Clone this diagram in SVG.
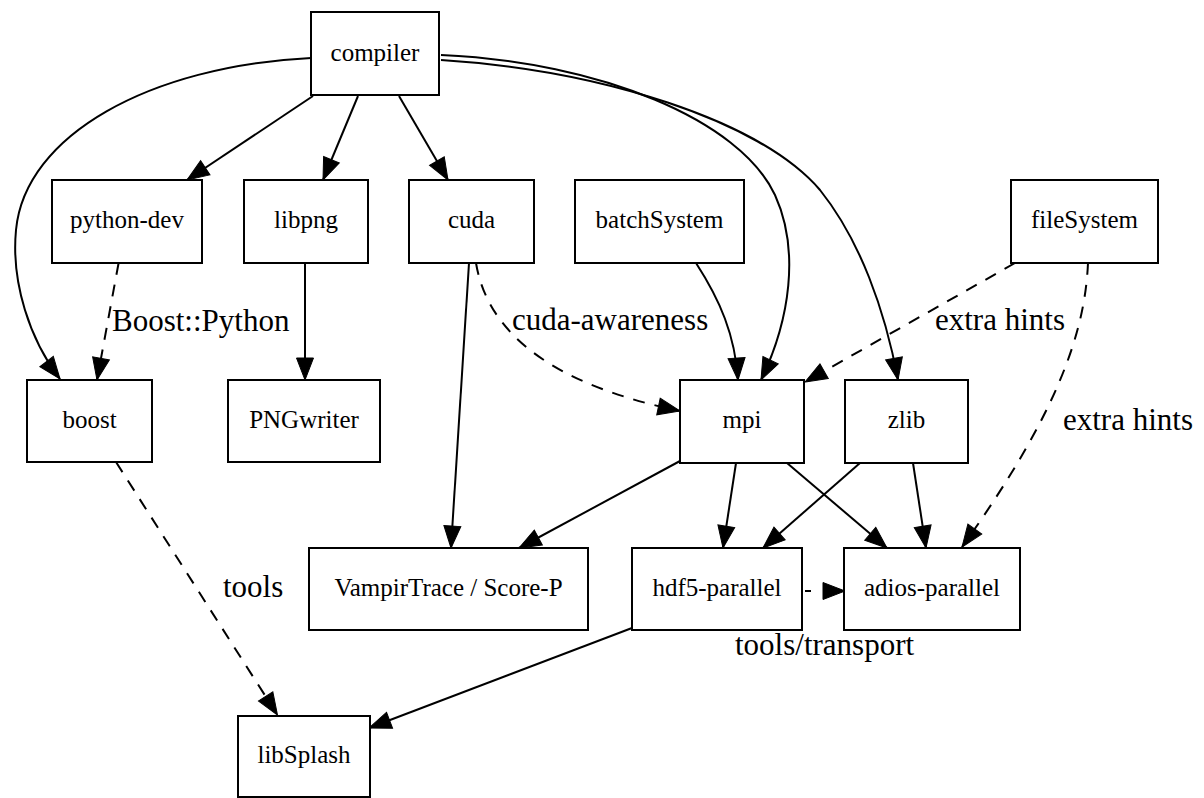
<svg xmlns="http://www.w3.org/2000/svg" width="1204" height="798" viewBox="0 0 1204 798">
<defs>
<marker id="arr" markerUnits="userSpaceOnUse" markerWidth="24" markerHeight="20" refX="22" refY="9" orient="auto" overflow="visible">
<path d="M0,0.5 L22,9 L0,17.5 z" fill="#000" stroke="#000" stroke-width="1"/>
</marker>
<style>
.node rect{fill:#fff;stroke:#000;stroke-width:2}
.node text{font-family:"Liberation Serif","Times New Roman",serif;font-size:25px;text-anchor:middle;fill:#000}
.edge path{fill:none;stroke:#000;stroke-width:2;marker-end:url(#arr)}
.edge path.d{stroke-dasharray:12,10}
.lbl{font-family:"Liberation Serif","Times New Roman",serif;font-size:31px;fill:#000}
</style>
</defs>
<rect width="1204" height="798" fill="#fff"/>
<g id="edges" class="edge">
<path d="M311,58 C150,66 25,135 16,230 C11,283 30,340 60,379"/>
<path d="M313,96 L187,180"/>
<path d="M358,96 L323,180"/>
<path d="M399,96 L448,180"/>
<path d="M441,55 C600,62 740,120 775,195 C800,250 790,320 761,380"/>
<path d="M441,60 C600,70 760,120 820,190 C860,240 885,310 898,380"/>
<path d="M696,263 C720,300 735,335 738,380"/>
<path class="d" d="M1015,263 L805,382"/>
<path class="d" d="M1088,263 C1085,330 1060,410 962,547"/>
<path class="d" d="M476,263 C488,335 555,385 680,411"/>
<path d="M469,263 L451,548"/>
<path class="d" d="M118.6,263 L97,380"/>
<path d="M305,263 L305,380"/>
<path class="d" d="M116,462 L277.5,715"/>
<path d="M680,461 L519,548"/>
<path d="M736,463 L723,548"/>
<path d="M787,463 L887,548"/>
<path d="M860,463 L763,548"/>
<path d="M913,463 L926,548"/>
<path d="M802,591 L845,591" style="stroke-dasharray:0 3 6 60"/>
<path d="M632,628 L369,728"/>
</g>
<g id="edge-labels">
<text class="lbl" x="112" y="331">Boost::Python</text>
<text class="lbl" x="512" y="330">cuda-awareness</text>
<text class="lbl" x="935" y="330">extra hints</text>
<text class="lbl" x="1063" y="430">extra hints</text>
<text class="lbl" x="223" y="597">tools</text>
<text class="lbl" x="735" y="655">tools/transport</text>
</g>
<g id="compiler" class="node"><rect x="311" y="12" width="128" height="83"/><text x="375" y="60.5">compiler</text></g>
<g id="python-dev" class="node"><rect x="52" y="180" width="150" height="83"/><text x="127" y="228">python-dev</text></g>
<g id="libpng" class="node"><rect x="244" y="180" width="124" height="83"/><text x="306" y="228">libpng</text></g>
<g id="cuda" class="node"><rect x="409" y="180" width="125" height="83"/><text x="471.5" y="228">cuda</text></g>
<g id="batchSystem" class="node"><rect x="575" y="180" width="169" height="83"/><text x="659.5" y="228">batchSystem</text></g>
<g id="fileSystem" class="node"><rect x="1011" y="180" width="147" height="83"/><text x="1084.5" y="228">fileSystem</text></g>
<g id="boost" class="node"><rect x="27" y="380" width="125" height="82"/><text x="89.5" y="427.5">boost</text></g>
<g id="PNGwriter" class="node"><rect x="228" y="380" width="152" height="82"/><text x="304" y="427.5">PNGwriter</text></g>
<g id="mpi" class="node"><rect x="680" y="380" width="124" height="83"/><text x="742" y="428">mpi</text></g>
<g id="zlib" class="node"><rect x="845" y="380" width="123" height="83"/><text x="906.5" y="428">zlib</text></g>
<g id="VampirTrace" class="node"><rect x="309" y="548" width="279" height="82"/><text x="448.5" y="596">VampirTrace / Score-P</text></g>
<g id="hdf5-parallel" class="node"><rect x="632" y="548" width="170" height="82"/><text x="717" y="596">hdf5-parallel</text></g>
<g id="adios-parallel" class="node"><rect x="844" y="548" width="176" height="82"/><text x="932" y="596">adios-parallel</text></g>
<g id="libSplash" class="node"><rect x="238" y="716" width="132" height="81"/><text x="304" y="763">libSplash</text></g>
</svg>
